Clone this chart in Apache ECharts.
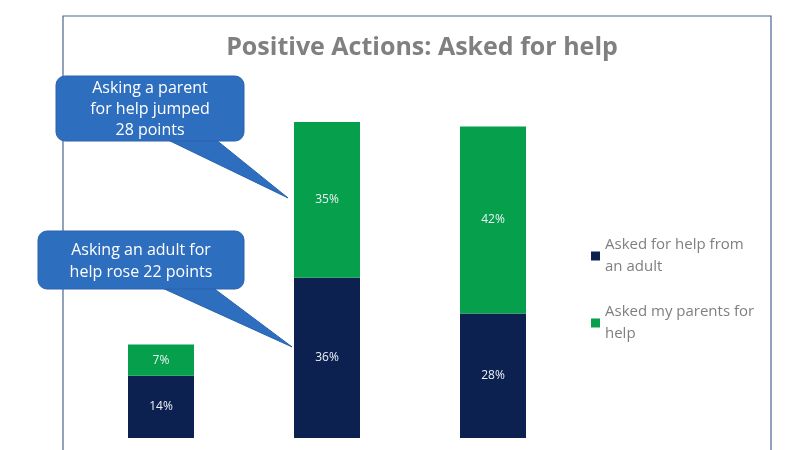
<!DOCTYPE html>
<html>
<head>
<meta charset="utf-8">
<script src="https://cdn.jsdelivr.net/npm/echarts@6/dist/echarts.min.js"></script>
<style>
  html, body { margin: 0; padding: 0; background: #ffffff; }
  #chart { width: 800px; height: 450px; }
</style>
</head>
<body>
<div id="chart"></div>
<script>
// Data
const categories = ['Before', 'Year 1', 'Year 2'];
const adultValues = [14, 36, 28];
const parentValues = [7, 35, 42];
const seriesNames = ['Asked for help from an adult', 'Asked my parents for help'];
const legendLabels = ['Asked for help from\nan adult', 'Asked my parents for\nhelp'];
const calloutTexts = ['Asking a parent\nfor help jumped\n28 points', 'Asking an adult for\nhelp rose 22 points'];

const navy = '#0c2150';
const green = '#06a04c';
const calloutBlue = '#2e6ebf';
const fontFamily = '"Open Sans", "Noto Sans", sans-serif';

const myChart = echarts.init(document.getElementById('chart'));

const labelStyle = {
    show: true,
    position: 'inside',
    color: '#eef2f8',
    fontSize: 12,
    fontFamily: fontFamily,
    formatter: p => p.value + '%'
};

const option = {
    backgroundColor: '#ffffff',
    animation: false,
    title: {
        text: 'Positive Actions: Asked for help',
        left: 417,
        textAlign: 'center',
        top: 30,
        textStyle: {
            color: '#808080',
            fontSize: 25,
            fontWeight: 'bold',
            fontFamily: fontFamily
        }
    },
    legend: {
        orient: 'vertical',
        left: 586,
        top: 229,
        itemWidth: 9,
        itemHeight: 9,
        itemGap: 23,
        icon: 'rect',
        data: seriesNames,
        formatter: name => legendLabels[seriesNames.indexOf(name)],
        textStyle: {
            color: '#7f7f7f',
            fontSize: 15,
            lineHeight: 22,
            fontFamily: fontFamily
        }
    },
    grid: {
        left: 78,
        width: 498,
        top: 82,
        bottom: 12
    },
    xAxis: {
        type: 'category',
        data: categories,
        show: false
    },
    yAxis: {
        type: 'value',
        min: 0,
        max: 80,
        show: false
    },
    series: [
        {
            name: seriesNames[0],
            type: 'bar',
            stack: 'total',
            barWidth: 66,
            data: adultValues,
            itemStyle: { color: navy },
            label: labelStyle
        },
        {
            name: seriesNames[1],
            type: 'bar',
            stack: 'total',
            barWidth: 66,
            data: parentValues,
            itemStyle: { color: green },
            label: labelStyle
        }
    ]
};

myChart.setOption(option);

// Callouts: bubble boxes with tails pointing at the middle bar's segments
const tipParent = myChart.convertToPixel({ seriesIndex: 0 }, [1, adultValues[1] + parentValues[1] / 2]);
const tipAdult = myChart.convertToPixel({ seriesIndex: 0 }, [1, adultValues[1] / 2]);
const barHalf = 33;

function callout(box, tailBase, tip, text, lineHeight) {
    return {
        type: 'group',
        children: [
            {
                type: 'polygon',
                shape: { points: [[tailBase[0], box.y + box.height - 2], [tailBase[1], box.y + box.height - 2], tip] },
                style: { fill: calloutBlue, stroke: '#2a63ad', lineWidth: 1 }
            },
            {
                type: 'rect',
                shape: { x: box.x, y: box.y, width: box.width, height: box.height, r: 9 },
                style: { fill: calloutBlue, stroke: '#2a63ad', lineWidth: 1 }
            },
            {
                type: 'text',
                x: box.x + box.width / 2,
                y: box.y + box.height / 2 + 1,
                style: {
                    text: text,
                    fill: '#ffffff',
                    font: '16px ' + fontFamily,
                    lineHeight: lineHeight,
                    align: 'center',
                    verticalAlign: 'middle'
                }
            }
        ]
    };
}

myChart.setOption({
    graphic: [
        {
            type: 'rect',
            shape: { x: 63, y: 16, width: 708, height: 450 },
            style: { fill: 'none', stroke: '#4d6394', lineWidth: 1.2 },
            z: -1
        },
        callout({ x: 56, y: 76, width: 188, height: 65 }, [166, 215],
            [tipParent[0] - barHalf - 6, tipParent[1] - 2], calloutTexts[0], 21),
        callout({ x: 38, y: 231, width: 206, height: 58 }, [160, 212],
            [tipAdult[0] - barHalf - 2, tipAdult[1] - 11], calloutTexts[1], 22)
    ]
});
</script>
</body>
</html>
